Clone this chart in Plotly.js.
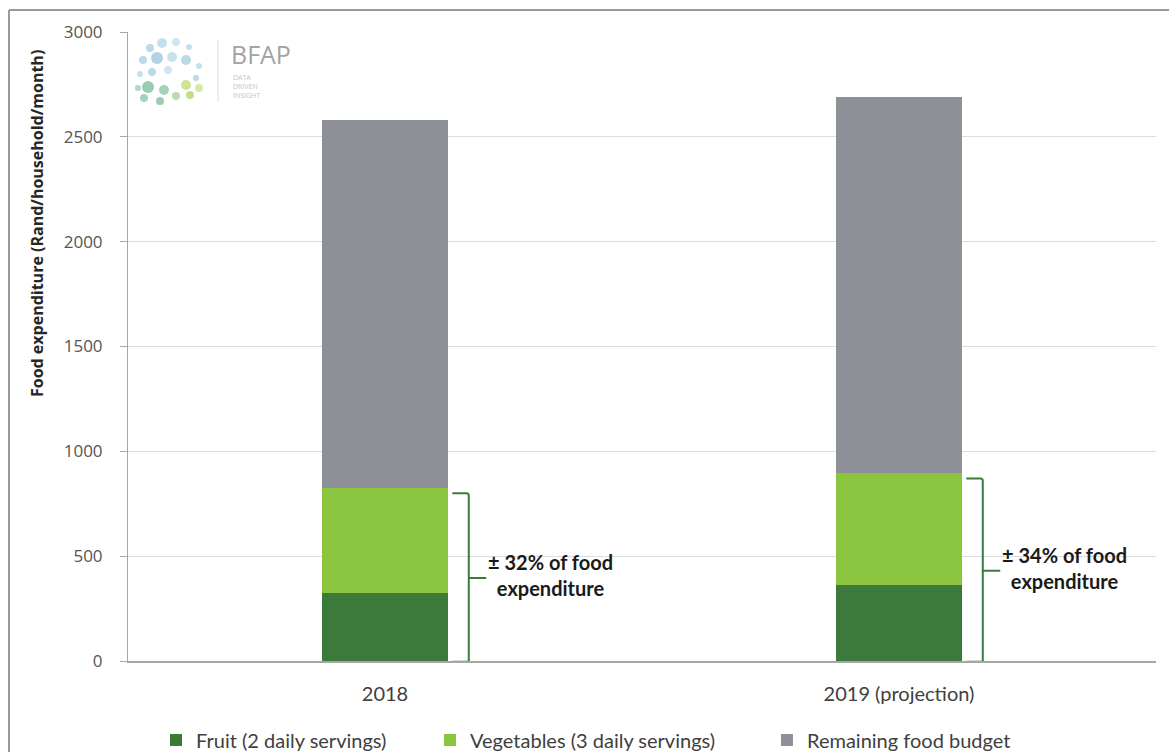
<!DOCTYPE html>
<html>
<head>
<meta charset="utf-8">
<script src="https://cdn.plot.ly/plotly-3.0.1.min.js"></script>
<style>html,body{margin:0;padding:0;background:#fff}#chart{width:1169px;height:752px}</style>
</head>
<body>
<div id="chart"></div>
<script>
// ---- data ----
const categories = ["2018", "2019 (projection)"];
const fruit = [325, 362];
const vegetables = [500, 535];
const remaining = [1755, 1793];
const sharePct = [32, 34];
const seriesNames = ["Fruit (2 daily servings)", "Vegetables (3 daily servings)", "Remaining food budget"];
const yTicks = [0, 500, 1000, 1500, 2000, 2500, 3000];

// ---- layout geometry ----
const W = 1169, H = 752;
const M = {l: 128, r: 13, t: 32, b: 91};
const PW = W - M.l - M.r, PH = H - M.t - M.b;
const px = x => (x - M.l) / PW;          // pixel -> paper x
const py = y => (H - M.b - y) / PH;      // pixel -> paper y

const colors = ["#3b7a3b", "#8bc43f", "#8e9097"];
const barW = 0.247;

const traces = [fruit, vegetables, remaining].map((vals, k) => ({
  type: "bar",
  x: categories,
  y: vals,
  name: seriesNames[k],
  marker: {color: colors[k]},
  width: barW,
  showlegend: true,
  legend: k === 0 ? "legend" : (k === 1 ? "legend2" : "legend3"),
  hoverinfo: "skip"
}));

const shapes = [];
const annotations = [];

// brackets + share labels
categories.forEach((c, i) => {
  const top = (fruit[i] + vegetables[i]) * 0.97;
  const mid = (fruit[i] + vegetables[i]) * 0.48;
  const x0 = i + 0.131, x1 = i + 0.163, x2 = i + 0.197;
  shapes.push({
    type: "path", xref: "x", yref: "y",
    path: `M ${x0},${top} L ${x1 - 0.004},${top} Q ${x1},${top} ${x1},${top - 12} L ${x1},${4} Q ${x1},${-4} ${x1 - 0.004},${-4} L ${x0},${-4} M ${x1},${mid} L ${x2},${mid}`,
    line: {color: "#3b7a3b", width: 2}
  });
  annotations.push({
    xref: "x", yref: "y", x: i + 0.322, y: mid + 12,
    text: "<b>± " + sharePct[i] + "% of food<br>expenditure</b>",
    showarrow: false, xanchor: "center", yanchor: "middle",
    font: {family: "Lato", size: 20, color: "#1a1a1a"}, align: "center"
  });
});

// y-axis title
annotations.push({
  xref: "paper", yref: "paper", x: px(37), y: py(224),
  text: "<b>Food expenditure (Rand/household/month)</b>",
  textangle: -90, showarrow: false, xanchor: "center", yanchor: "middle",
  font: {family: "Open Sans", size: 16, color: "#262626"}
});

// logo (decorative)
annotations.push({
  xref: "paper", yref: "paper", x: px(229), y: py(54),
  text: "BFAP", showarrow: false, xanchor: "left", yanchor: "middle",
  font: {family: "Open Sans", size: 25, color: "#a3a3a3"}
});
annotations.push({
  xref: "paper", yref: "paper", x: px(231), y: py(87),
  text: "DATA<br>DRIVEN<br>INSIGHT", showarrow: false, xanchor: "left", yanchor: "middle",
  font: {family: "Open Sans", size: 7, color: "#c4c4c4"}, align: "left"
});
shapes.push({type: "line", xref: "paper", yref: "paper", x0: px(218), x1: px(218), y0: py(40), y1: py(102), line: {color: "#dddddd", width: 1}});
const dots = [
  [150,48,4,"#a9d0e4"],[162,43,5,"#b6d8e8"],[176,42,4,"#c5e0ec"],[189,47,3,"#b6d8e8"],
  [143,60,4,"#a9d0e4"],[157,58,6,"#9cc7dc"],[172,57,5,"#b8d9e8"],[186,60,5,"#a9d0e4"],[199,66,3,"#b6d8e8"],
  [140,74,3,"#b6d8e8"],[152,72,4,"#a9d0e4"],[168,70,4,"#c5e0ec"],[196,78,3,"#a9d0e4"],
  [148,87,6,"#7fbfa0"],[164,90,5,"#8fc8a8"],[144,98,4,"#8fc8a8"],[160,101,4,"#7fbfa0"],[176,96,4,"#a7d39a"],
  [186,85,5,"#c4dc7a"],[199,88,4,"#d0e38c"],[190,95,4,"#b9d46a"],[138,88,3,"#9fd0b0"]
];
dots.forEach(d => shapes.push({
  type: "circle", xref: "paper", yref: "paper",
  x0: px(d[0] - d[2]), x1: px(d[0] + d[2]), y0: py(d[1] + d[2]), y1: py(d[1] - d[2]),
  fillcolor: d[3], line: {width: 0}, opacity: 0.8, layer: "above"
}));

// outer frame (top & left)
shapes.push({type: "line", xref: "paper", yref: "paper", x0: px(9), x1: px(1169), y0: py(10), y1: py(10), line: {color: "#9a9a9a", width: 2}});
shapes.push({type: "line", xref: "paper", yref: "paper", x0: px(9), x1: px(9), y0: py(10), y1: py(752), line: {color: "#9a9a9a", width: 2}});

const legendBase = {
  orientation: "h", yanchor: "middle", xanchor: "left",
  xref: "container", yref: "container", y: 1 - 740 / H,
  font: {family: "Lato", size: 20, color: "#404040"}, bgcolor: "rgba(0,0,0,0)",
  itemwidth: 30, traceorder: "normal"
};

const layout = {
  width: W, height: H,
  margin: Object.assign({autoexpand: false}, M),
  paper_bgcolor: "#ffffff", plot_bgcolor: "#ffffff",
  barmode: "stack",
  showlegend: true,
  xaxis: {
    type: "category", range: [-0.5, 1.5],
    showgrid: false, showline: true, linecolor: "#a6a6a6", linewidth: 2,
    ticks: "", ticklabelstandoff: 14,
    tickfont: {family: "Lato", size: 20, color: "#404040"}
  },
  yaxis: {
    range: [0, 3000], tickvals: yTicks, ticktext: yTicks.map(String),
    showgrid: true, gridcolor: "#dcdcdc", gridwidth: 1,
    showline: true, linecolor: "#a6a6a6", linewidth: 1,
    ticks: "outside", ticklen: 7, tickcolor: "#a6a6a6", ticklabelstandoff: 14,
    tickfont: {family: "Open Sans", size: 17, color: "#555555"},
    zeroline: false
  },
  legend: Object.assign({}, legendBase, {x: 156 / W}),
  legend2: Object.assign({}, legendBase, {x: 430 / W}),
  legend3: Object.assign({}, legendBase, {x: 767 / W}),
  shapes: shapes,
  annotations: annotations
};

Plotly.newPlot("chart", traces, layout, {displayModeBar: false, staticPlot: true});
</script>
</body>
</html>
